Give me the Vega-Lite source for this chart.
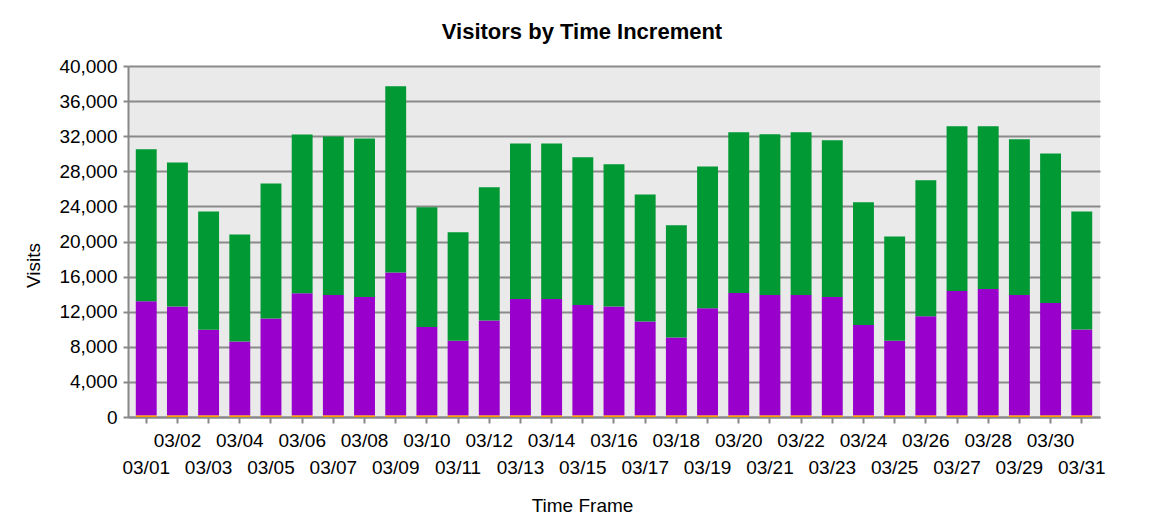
{
  "$schema": "https://vega.github.io/schema/vega-lite/v6.json",
  "width": 972,
  "height": 351,
  "autosize": {"type": "none"},
  "padding": {"left": 128, "top": 66, "right": 54, "bottom": 112},
  "background": "white",
  "title": {
    "text": "Visitors by Time Increment",
    "fontSize": 22,
    "fontWeight": "bold",
    "font": "Liberation Sans",
    "color": "#000000",
    "anchor": "middle",
    "frame": "group",
    "dx": -32,
    "baseline": "bottom",
    "offset": -9
  },
  "data": {
    "values": [
      {"date": "03/01", "Other": 200, "Repeat": 13000, "Unique": 17300},
      {"date": "03/02", "Other": 200, "Repeat": 12400, "Unique": 16400},
      {"date": "03/03", "Other": 200, "Repeat": 9750, "Unique": 13480},
      {"date": "03/04", "Other": 200, "Repeat": 8400, "Unique": 12200},
      {"date": "03/05", "Other": 200, "Repeat": 11030, "Unique": 15370},
      {"date": "03/06", "Other": 200, "Repeat": 13890, "Unique": 18110},
      {"date": "03/07", "Other": 200, "Repeat": 13700, "Unique": 18080},
      {"date": "03/08", "Other": 200, "Repeat": 13470, "Unique": 18080},
      {"date": "03/09", "Other": 200, "Repeat": 16280, "Unique": 21200},
      {"date": "03/10", "Other": 200, "Repeat": 10050, "Unique": 13640},
      {"date": "03/11", "Other": 200, "Repeat": 8500, "Unique": 12340},
      {"date": "03/12", "Other": 200, "Repeat": 10810, "Unique": 15160},
      {"date": "03/13", "Other": 200, "Repeat": 13240, "Unique": 17740},
      {"date": "03/14", "Other": 200, "Repeat": 13240, "Unique": 17740},
      {"date": "03/15", "Other": 200, "Repeat": 12560, "Unique": 16830},
      {"date": "03/16", "Other": 200, "Repeat": 12400, "Unique": 16190},
      {"date": "03/17", "Other": 200, "Repeat": 10690, "Unique": 14480},
      {"date": "03/18", "Other": 200, "Repeat": 8860, "Unique": 12780},
      {"date": "03/19", "Other": 200, "Repeat": 12180, "Unique": 16180},
      {"date": "03/20", "Other": 200, "Repeat": 13930, "Unique": 18310},
      {"date": "03/21", "Other": 200, "Repeat": 13700, "Unique": 18310},
      {"date": "03/22", "Other": 200, "Repeat": 13700, "Unique": 18540},
      {"date": "03/23", "Other": 200, "Repeat": 13470, "Unique": 17860},
      {"date": "03/24", "Other": 200, "Repeat": 10280, "Unique": 13980},
      {"date": "03/25", "Other": 200, "Repeat": 8500, "Unique": 11880},
      {"date": "03/26", "Other": 200, "Repeat": 11270, "Unique": 15500},
      {"date": "03/27", "Other": 200, "Repeat": 14160, "Unique": 18760},
      {"date": "03/28", "Other": 200, "Repeat": 14390, "Unique": 18530},
      {"date": "03/29", "Other": 200, "Repeat": 13700, "Unique": 17740},
      {"date": "03/30", "Other": 200, "Repeat": 12790, "Unique": 17050},
      {"date": "03/31", "Other": 200, "Repeat": 9775, "Unique": 13455}
    ]
  },
  "transform": [
    {"fold": ["Other", "Repeat", "Unique"], "as": ["series", "visits"]}
  ],
  "mark": {"type": "bar"},
  "encoding": {
    "x": {
      "field": "date",
      "type": "ordinal",
      "title": "Time Frame",
      "scale": {"paddingInner": 0.33, "paddingOuter": 0.25},
      "axis": {
        "labelAngle": 0,
        "labelOverlap": false,
        "labelBound": false,
        "labelExpr": "toNumber(slice(datum.value, 3)) % 2 == 1 ? ['', datum.value] : datum.value",
        "labelFontSize": 19,
        "labelLineHeight": 27,
        "labelPadding": 8,
        "labelColor": "#000000",
        "tickSize": 6,
        "tickColor": "#888888",
        "tickWidth": 2,
        "domainColor": "#888888",
        "domainWidth": 2,
        "grid": false,
        "titleFontSize": 19,
        "titleFontWeight": "normal",
        "titleColor": "#000000",
        "titleX": 454,
        "titleY": 88,
        "titleBaseline": "middle",
        "titleAnchor": null
      }
    },
    "y": {
      "field": "visits",
      "type": "quantitative",
      "aggregate": "sum",
      "stack": "zero",
      "title": "Visits",
      "scale": {"domain": [0, 40000], "nice": false},
      "axis": {
        "values": [0, 4000, 8000, 12000, 16000, 20000, 24000, 28000, 32000, 36000, 40000],
        "format": ",d",
        "labelFontSize": 19,
        "labelPadding": 6,
        "labelColor": "#000000",
        "tickSize": 5,
        "tickColor": "#888888",
        "tickWidth": 2,
        "domainColor": "#888888",
        "domainWidth": 2,
        "grid": true,
        "gridColor": "#8a8a8a",
        "gridWidth": 2,
        "titleFontSize": 19,
        "titleFontWeight": "normal",
        "titleColor": "#000000",
        "titleX": -95,
        "titleY": 199,
        "titleBaseline": "middle",
        "titleAnchor": null
      }
    },
    "color": {
      "field": "series",
      "type": "nominal",
      "scale": {"domain": ["Other", "Repeat", "Unique"], "range": ["#FF9900", "#9900CC", "#009933"]},
      "legend": null
    },
    "order": {"field": "series", "sort": "ascending"}
  },
  "config": {
    "font": "Liberation Sans",
    "view": {"fill": "#EAEAEA", "stroke": null}
  }
}
